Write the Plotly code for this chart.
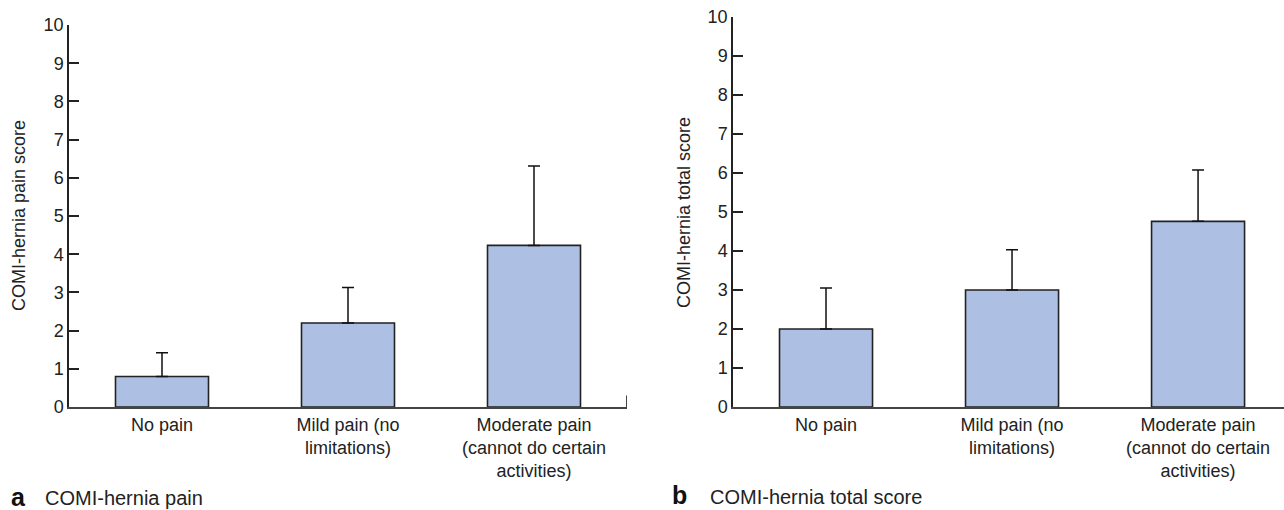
import plotly.graph_objects as go

categories = ["No pain", "Mild pain (no<br>limitations)", "Moderate pain<br>(cannot do certain<br>activities)"]
pain_mean = [0.8, 2.2, 4.23]
pain_sd = [0.62, 0.93, 2.08]
total_mean = [2.0, 3.0, 4.76]
total_sd = [1.05, 1.03, 1.32]
y_ticks = list(range(0, 11))

BAR = "#adc0e3"
EDGE = "#222222"
FONT = "Liberation Sans, Arial, Helvetica, sans-serif"

fig = go.Figure()
xs = list(range(len(categories)))
for means, sds, ax in [(pain_mean, pain_sd, ""), (total_mean, total_sd, "2")]:
    fig.add_trace(go.Bar(
        x=xs, y=means, xaxis="x" + ax, yaxis="y" + ax,
        marker=dict(color=BAR, line=dict(color=EDGE, width=1.6)),
        error_y=dict(type="data", array=sds, arrayminus=[0] * len(sds), symmetric=False,
                     color="#111111", thickness=1.5, width=6),
        showlegend=False, hoverinfo="y",
    ))

xcommon = dict(tickmode="array", tickvals=xs, ticktext=categories, ticks="", showline=True,
               linecolor="#444444", linewidth=2, showgrid=False, zeroline=False, automargin=False,
               tickfont=dict(family=FONT, size=18, color="#222222"), fixedrange=True)
ycommon = dict(range=[0, 10], tickmode="array", tickvals=y_ticks, ticks="inside", ticklen=10,
               tickwidth=1.5, tickcolor="#222222", showline=True, linecolor="#222222", linewidth=1.5,
               showgrid=False, zeroline=False, automargin=False,
               tickfont=dict(family=FONT, size=18, color="#222222"), fixedrange=True)

fig.update_layout(
    width=1284, height=510, margin=dict(l=0, r=0, t=0, b=0, pad=0, autoexpand=False),
    paper_bgcolor="white", plot_bgcolor="white", bargap=0.5,
    font=dict(family=FONT, color="#222222"),
    xaxis=dict(domain=[69 / 1284, 627 / 1284], range=[-0.5, 2.5], anchor="y", **xcommon),
    yaxis=dict(domain=[103 / 510, 485 / 510], anchor="x", **ycommon),
    xaxis2=dict(domain=[733 / 1284, 1.0], range=[-0.5, 2.462], anchor="y2", **xcommon),
    yaxis2=dict(domain=[103 / 510, 493 / 510], anchor="x2", **ycommon),
    shapes=[dict(type="line", xref="x", yref="y", x0=2.5, x1=2.5, y0=0, y1=0.3,
                 line=dict(color="#444444", width=2))],
    annotations=[
        dict(text="COMI-hernia pain score", textangle=-90, xref="paper", yref="paper",
             x=19 / 1284, y=(510 - 216) / 510, xanchor="center", yanchor="middle",
             showarrow=False, font=dict(size=18, family=FONT)),
        dict(text="COMI-hernia total score", textangle=-90, xref="paper", yref="paper",
             x=684 / 1284, y=(510 - 212) / 510, xanchor="center", yanchor="middle",
             showarrow=False, font=dict(size=18, family=FONT)),
        dict(text="<b>a</b>", xref="paper", yref="paper", x=9 / 1284, y=(510 - 497) / 510,
             xanchor="left", yanchor="middle", showarrow=False,
             font=dict(size=25, family=FONT, color="#111111")),
        dict(text="COMI-hernia pain", xref="paper", yref="paper", x=43 / 1284, y=(510 - 498) / 510,
             xanchor="left", yanchor="middle", showarrow=False, font=dict(size=20, family=FONT)),
        dict(text="<b>b</b>", xref="paper", yref="paper", x=670 / 1284, y=(510 - 495) / 510,
             xanchor="left", yanchor="middle", showarrow=False,
             font=dict(size=25, family=FONT, color="#111111")),
        dict(text="COMI-hernia total score", xref="paper", yref="paper", x=708 / 1284, y=(510 - 497) / 510,
             xanchor="left", yanchor="middle", showarrow=False, font=dict(size=20, family=FONT)),
    ],
)

fig.write_html("out.html", config={"displayModeBar": False},
               post_script="document.body.style.margin='0';document.body.style.overflow='hidden';")
